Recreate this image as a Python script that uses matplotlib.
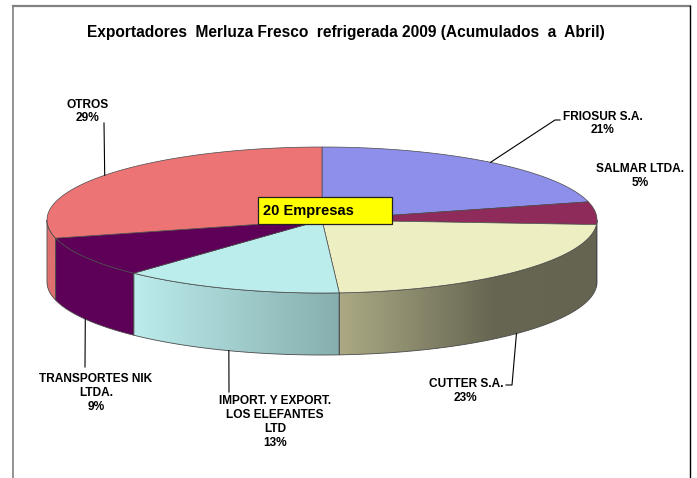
import numpy as np
import matplotlib
matplotlib.use('Agg')
import matplotlib.pyplot as plt
from matplotlib.patches import Polygon, Rectangle

# ---- data ----
categories = ['FRIOSUR S.A.', 'SALMAR LTDA.', 'CUTTER S.A.',
              'IMPORT. Y EXPORT.\nLOS ELEFANTES\nLTD', 'TRANSPORTES NIK\nLTDA.', 'OTROS']
shares = [21, 5, 23, 13, 9, 29]
title = 'Exportadores  Merluza Fresco  refrigerada 2009 (Acumulados  a  Abril)'
note = '20 Empresas'

# ---- styles ----
top_colors = ['#8E8EEB', '#8E2B5B', '#EEEEC3', '#BCEDED', '#5E0058', '#EC7474']
side_stops = [
    [(0, (110, 110, 200)), (1, (110, 110, 200))],
    [(0, (120, 35, 76)), (1, (110, 30, 70))],
    [(0, (172, 170, 132)), (0.6, (102, 102, 82)), (1, (100, 100, 80))],
    [(0, (188, 236, 236)), (1, (134, 174, 174))],
    [(0, (94, 0, 88)), (1, (94, 0, 88))],
    [(0, (222, 112, 112)), (1, (222, 112, 112))],
]
label_pos = [(603, 123.5), (640, 176), (466, 391), (275, 422), (96, 393), (88, 111.5)]
label_end = [[(555, 120), (560, 120)], None, [(512, 385), (506, 385)],
             [(229, 392)], [(85, 367)], [(104, 123)]]

W, H = 697, 478
cx, cy, a, b, depth = 322, 220, 275, 73, 62

fig = plt.figure(figsize=(W / 100, H / 100), dpi=100)
ax = fig.add_axes([0, 0, 1, 1])
ax.set_xlim(0, W)
ax.set_ylim(H, 0)
ax.axis('off')


def pt(theta, dz=0.0):
    t = np.radians(theta)
    return cx + a * np.sin(t), cy - b * np.cos(t) + dz


def arc(t0, t1, dz=0.0, n=80):
    ts = np.linspace(t0, t1, n)
    return [pt(t, dz) for t in ts]


total = float(sum(shares))
bounds = np.concatenate([[0], np.cumsum(shares)]) / total * 360.0
edge = '#4a4a4a'

# side walls (front half only: 90..270 deg clockwise from top)
for i in range(len(shares)):
    s0, s1 = max(bounds[i], 90), min(bounds[i + 1], 270)
    if s1 <= s0:
        continue
    poly = arc(s0, s1) + arc(s1, s0, depth)
    patch = Polygon(poly, closed=True, facecolor='none', edgecolor=edge, lw=0.6, zorder=3)
    ax.add_patch(patch)
    xs = [p[0] for p in poly]
    ys = [p[1] for p in poly]
    xmin, xmax = min(xs), max(xs)
    f = np.linspace(0, 1, 256)
    stops = side_stops[i]
    pos = [s[0] for s in stops]
    img = np.zeros((1, 256, 3))
    for ch in range(3):
        img[0, :, ch] = np.interp(f, pos, [s[1][ch] for s in stops]) / 255.0
    im = ax.imshow(img, extent=(xmin, xmax, max(ys), min(ys)), aspect='auto',
                   interpolation='bilinear', zorder=2)
    clip = Polygon(poly, closed=True, transform=ax.transData)
    im.set_clip_path(clip)

# top faces
for i in range(len(shares)):
    poly = [(cx, cy)] + arc(bounds[i], bounds[i + 1])
    ax.add_patch(Polygon(poly, closed=True, facecolor=top_colors[i],
                         edgecolor=edge, lw=0.5, zorder=4))

# labels and leader lines
for i, cat in enumerate(categories):
    pct = int(round(shares[i] / total * 100))
    x, y = label_pos[i]
    ax.text(x, y, f'{cat}\n{pct}%', ha='center', va='center', fontsize=8.6,
            fontweight='bold', family='Liberation Sans', linespacing=1.2, zorder=6)
    if label_end[i] is None:
        continue
    mid = (bounds[i] + bounds[i + 1]) / 2
    anchor = pt(mid, depth if 90 < mid < 270 else 0)
    pts = [anchor] + label_end[i]
    ax.plot([p[0] for p in pts], [p[1] for p in pts], color='black', lw=0.8, zorder=6)

# title
ax.text(346, 32, title, ha='center', va='center', fontsize=11.2, fontweight='bold',
        family='Liberation Sans', zorder=6)

# note box
ax.add_patch(Rectangle((258, 197), 134, 27, facecolor='#FFFF00', edgecolor='#222222',
                       lw=0.9, zorder=7))
ax.text(263, 211, note, ha='left', va='center', fontsize=10.5, fontweight='bold',
        family='Liberation Sans', zorder=8)

# frame
ax.plot([13, 690], [6, 6], color='#808080', lw=1.6, zorder=9)
ax.plot([13, 13], [6, H], color='#808080', lw=1.2, zorder=9)
ax.plot([690, 690], [6, H], color='black', lw=1.0, zorder=9)

fig.savefig('out.png', dpi=100)
